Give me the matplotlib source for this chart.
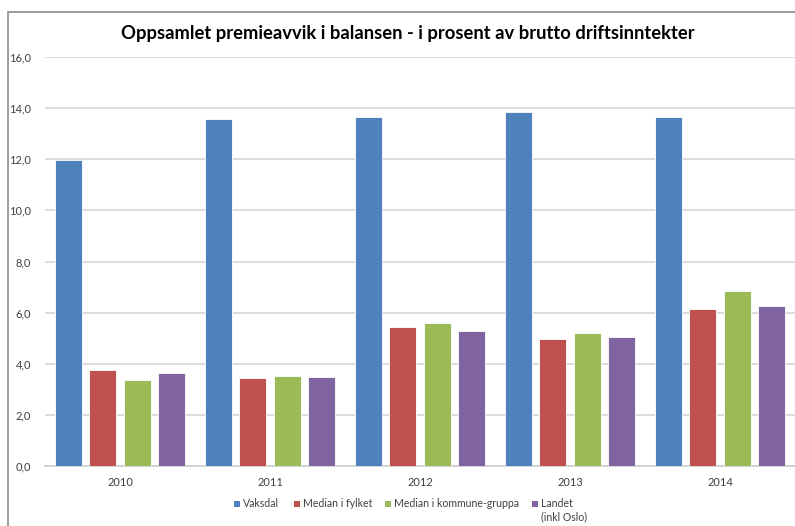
import matplotlib
matplotlib.use("Agg")
import matplotlib.pyplot as plt
import numpy as np
from matplotlib.patches import Rectangle

years = ["2010", "2011", "2012", "2013", "2014"]
series_names = ["Vaksdal", "Median i fylket", "Median i kommune-gruppa", "Landet\n(inkl Oslo)"]
vaksdal = [11.97, 13.57, 13.64, 13.84, 13.66]
median_fylket = [3.75, 3.43, 5.45, 4.95, 6.13]
median_gruppa = [3.37, 3.53, 5.61, 5.20, 6.86]
landet = [3.62, 3.47, 5.28, 5.04, 6.25]
yticks = [0, 2, 4, 6, 8, 10, 12, 14, 16]
ytick_labels = ["0,0", "2,0", "4,0", "6,0", "8,0", "10,0", "12,0", "14,0", "16,0"]
title = "Oppsamlet premieavvik i balansen - i prosent av brutto driftsinntekter"

colors = ["#4F81BD", "#C0504D", "#9BBB59", "#8064A2"]
plt.rcParams['font.family'] = ['Lato', 'DejaVu Sans']

W, H = 795, 526
fig = plt.figure(figsize=(W / 100, H / 100), dpi=100)
# chart border
fig.patches.append(Rectangle((8 / W, -0.1), 1.2, 1 - 12 / H + 0.1, transform=fig.transFigure,
                             fill=False, edgecolor="#8c8c8c", linewidth=1.2))
ax = fig.add_axes([45 / W, 60 / H, 1 - 45 / W, (466 - 57) / H])

x = np.arange(len(years))
data = [vaksdal, median_fylket, median_gruppa, landet]
step = 0.227
width = 0.18
for i, (vals, c) in enumerate(zip(data, colors)):
    ax.bar(x + (i - 1.5) * step, vals, width=width, color=c, edgecolor="white", linewidth=0.6, zorder=3)

ax.set_xlim(-0.5, 4.5)
ax.set_ylim(0, 16)
ax.set_yticks(yticks)
ax.set_yticklabels(ytick_labels, fontsize=8, color="#404040")
ax.set_xticks(x)
ax.set_xticklabels(years, fontsize=8, color="#404040")
ax.tick_params(axis="x", length=0, pad=8)
ax.tick_params(axis="y", length=0, pad=10)
ax.grid(axis="y", color="#d9d9d9", linewidth=1.3, zorder=0)
for s in ["top", "right", "left"]:
    ax.spines[s].set_visible(False)
ax.spines["bottom"].set_color("#d0d0d0")
ax.spines["bottom"].set_linewidth(1.3)

fig.text(408 / W, 1 - 33 / H, title, ha="center", va="center", fontsize=13.2, fontweight="bold")

# legend (Excel style: small squares, multi-line label top aligned)
marker_x = [234, 294, 385, 532]
leg_y = 504
msize = 6
for mx, name, c in zip(marker_x, series_names, colors):
    fig.patches.append(Rectangle((mx / W, 1 - (leg_y + msize / 2) / H), msize / W, msize / H,
                                 transform=fig.transFigure, facecolor=c, edgecolor="none"))
    fig.text((mx + msize + 3) / W, 1 - (leg_y - 6) / H, name, ha="left", va="top",
             fontsize=7.6, color="#404040", linespacing=1.3)

fig.savefig("out.png", dpi=100)
